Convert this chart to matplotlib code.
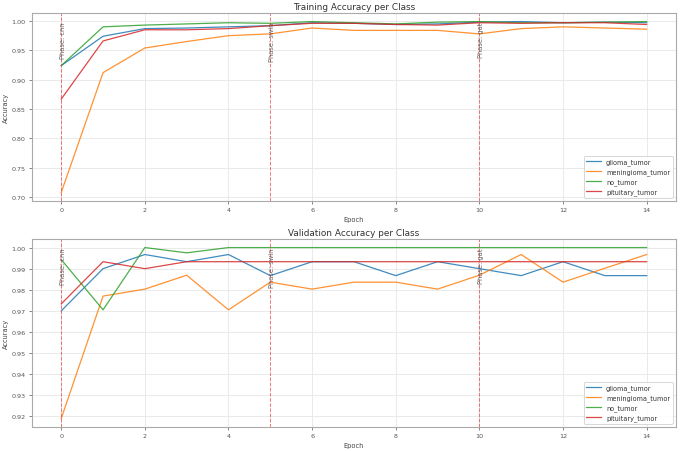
import matplotlib
matplotlib.use("Agg")
import matplotlib.pyplot as plt
import numpy as np

epochs = list(range(15))
classes = ["glioma_tumor", "meningioma_tumor", "no_tumor", "pituitary_tumor"]

train_glioma = [0.924, 0.974, 0.987, 0.988, 0.990, 0.992, 0.997, 0.996, 0.994, 0.995, 0.998, 0.999, 0.997, 0.998, 0.997]
train_meningioma = [0.708, 0.912, 0.954, 0.965, 0.975, 0.978, 0.988, 0.984, 0.984, 0.984, 0.978, 0.987, 0.990, 0.988, 0.986]
train_no_tumor = [0.924, 0.990, 0.993, 0.995, 0.997, 0.996, 0.999, 0.997, 0.995, 0.998, 0.999, 0.997, 0.997, 0.998, 0.999]
train_pituitary = [0.867, 0.966, 0.985, 0.985, 0.987, 0.992, 0.996, 0.996, 0.994, 0.993, 0.997, 0.996, 0.997, 0.997, 0.994]

val_glioma = [0.970, 0.990, 0.9967, 0.9933, 0.9967, 0.9867, 0.9933, 0.9933, 0.9867, 0.9933, 0.990, 0.9867, 0.9933, 0.9867, 0.9867]
val_meningioma = [0.919, 0.977, 0.9803, 0.9869, 0.9705, 0.9836, 0.9803, 0.9836, 0.9836, 0.9803, 0.9869, 0.9967, 0.9836, 0.9902, 0.9967]
val_no_tumor = [0.9943, 0.9705, 1.0, 0.9975, 1.0, 1.0, 1.0, 1.0, 1.0, 1.0, 1.0, 1.0, 1.0, 1.0, 1.0]
val_pituitary = [0.9733, 0.9933, 0.990, 0.9933, 0.9933, 0.9933, 0.9933, 0.9933, 0.9933, 0.9933, 0.9933, 0.9933, 0.9933, 0.9933, 0.9933]

phase_epochs = [0, 5, 10]
phase_names = ["cnn", "swin", "gat"]

colors = ["#1f77b4", "#ff7f0e", "#2ca02c", "#d62728"]

plt.rcParams.update({
    "font.family": "DejaVu Sans",
    "font.size": 5,
    "axes.edgecolor": "#aaaaaa",
    "axes.linewidth": 0.8,
    "xtick.color": "#555555",
    "ytick.color": "#555555",
    "xtick.major.size": 2.5,
    "ytick.major.size": 2.5,
    "xtick.major.width": 0.5,
    "ytick.major.width": 0.5,
    "text.color": "#333333",
    "axes.labelcolor": "#444444",
})

fig = plt.figure(figsize=(6.8, 4.52), dpi=100)
ax1 = fig.add_axes([0.047, 0.553, 0.947, 0.416])
ax2 = fig.add_axes([0.047, 0.053, 0.947, 0.416])

def draw(ax, series, title):
    for name, vals, c in zip(classes, series, colors):
        ax.plot(epochs, vals, color=c, lw=0.9, alpha=0.85, label=name)
    ymax = max(max(v) for v in series)
    for e, p in zip(phase_epochs, phase_names):
        ax.axvline(e, color="#e8413b", ls="--", lw=0.7, alpha=0.7)
        ax.text(e - 0.03, ymax, f"Phase: {p}", rotation=90, va="top", ha="left",
                fontsize=4.8, color="#555555", alpha=0.9)
    ax.set_title(title, fontsize=6.4, color="#333333", pad=3)
    ax.set_xlabel("Epoch", fontsize=4.8, labelpad=3)
    ax.set_ylabel("Accuracy", fontsize=4.8, labelpad=2)
    ax.grid(True, color="#e6e6e6", lw=0.6)
    ax.set_axisbelow(True)
    ax.tick_params(labelsize=4.6, pad=2)
    leg = ax.legend(loc="lower right", fontsize=4.7, frameon=True, framealpha=0.9,
                    edgecolor="#cccccc", handlelength=2.2)
    leg.get_frame().set_linewidth(0.6)

draw(ax1, [train_glioma, train_meningioma, train_no_tumor, train_pituitary], "Training Accuracy per Class")
draw(ax2, [val_glioma, val_meningioma, val_no_tumor, val_pituitary], "Validation Accuracy per Class")

fig.savefig("out.png", dpi=100)
